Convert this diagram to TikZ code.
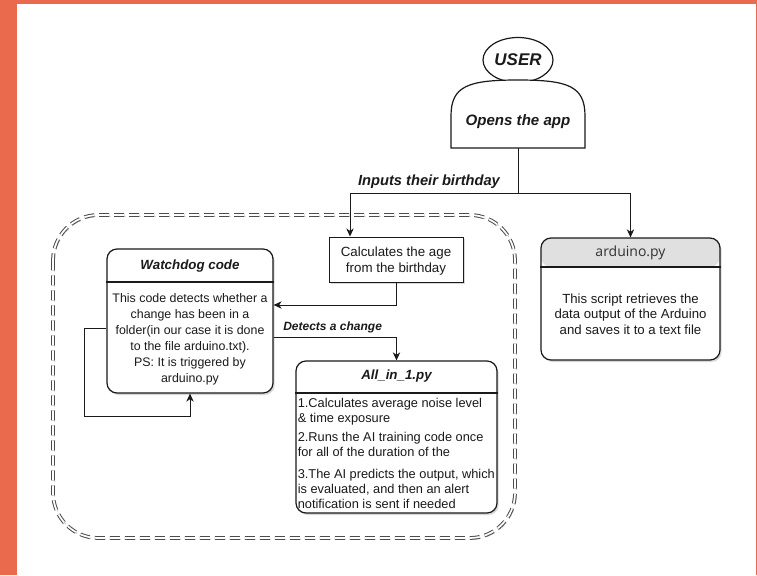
\documentclass[tikz,border=0pt]{standalone}
\usepackage{fontspec}
\setmainfont{Liberation Sans}
\newfontfamily\hdrfont{Open Sans}
\usetikzlibrary{arrows.meta,shapes.geometric,shadows}
\definecolor{frame}{HTML}{E96A4C}
\definecolor{hdr}{HTML}{E0E0E0}
\definecolor{ink}{HTML}{1A1A1A}
\begin{document}
\begin{tikzpicture}[x=0.75pt,y=-0.75pt,
  line/.style={draw=ink, line width=0.75pt},
  arr/.style={line, -{Stealth[length=6pt,width=5.5pt,inset=1.8pt]}},
  shadowed/.style={drop shadow={shadow xshift=1.2pt, shadow yshift=-1.5pt, opacity=0.3}},
  card/.style={draw=ink, line width=0.9pt, fill=white, rounded corners=7.5pt, shadowed, inner sep=0pt},
  plainbox/.style={draw=ink, line width=0.75pt, fill=white, shadowed, inner sep=0pt},
  ttl/.style={font=\fontsize{10}{12}\selectfont\bfseries\itshape, text=ink, inner sep=0pt},
  body/.style={font=\fontsize{9.6}{12}\selectfont, text=ink, align=center, inner sep=0pt},
  lbl/.style={font=\fontsize{9}{11}\selectfont\bfseries\itshape, text=ink, inner sep=0pt}
]
\useasboundingbox (0,0) rectangle (757,575);
\fill[frame] (0,0) rectangle (757,575);
\fill[white] (17,4) rectangle (756,575);

% dashed container
\draw[draw=black!20, line width=0.8pt, dash pattern=on 7.5pt off 3.75pt, rounded corners=34pt,
      xshift=1pt, yshift=-1pt] (53,215) rectangle (515,538);
\draw[draw=black!70, double=white, double distance=1.3pt, line width=0.75pt,
      dash pattern=on 7.5pt off 3.75pt, rounded corners=34pt] (53,215) rectangle (515,538);

% user
\node[draw=ink, line width=0.9pt, ellipse, fill=white, minimum width=52.5pt, minimum height=33.75pt, inner sep=0pt,
      font=\fontsize{12.7}{14}\selectfont\bfseries\itshape, text=ink] (user) at (518,60) {USER};
\node[minimum width=100.5pt, minimum height=51pt, inner sep=0pt] (opens) at (518,114) {};
\draw[draw=ink, line width=0.9pt, fill=white] (451,148) -- (451,116)
   .. controls (451,86) and (468,80) .. (518,80)
   .. controls (568,80) and (585,86) .. (585,116) -- (585,148) -- cycle;
\node[font=\fontsize{11.3}{13}\selectfont\bfseries\itshape, text=ink, inner sep=0pt] (openst) at (518,122) {Opens the app};

% calc box
\node[plainbox, minimum width=100.5pt, minimum height=33.75pt] (calc) at (396,259.5) {};
\node[body, font=\fontsize{10}{12}\selectfont] (calct) at (396,261) {Calculates the age\\from the birthday};

% arduino box
\node[card, minimum width=134.25pt, minimum height=91.5pt,
      path picture={\fill[hdr] (path picture bounding box.north west) rectangle ([yshift=-21.75pt]path picture bounding box.north east);}] (ard) at (630.5,299) {};
\draw[draw=ink, line width=0.9pt] (ard.west |- 0,267) -- (ard.east |- 0,267);
\node[font=\fontsize{10.5}{12}\selectfont\hdrfont, text=ink!90, inner sep=0pt] (ardt) at (630.5,253) {arduino.py};
\node[body, font=\fontsize{9.9}{11.6}\selectfont] (ardb) at (630.5,314) {This script retrieves the\\data output of the Arduino\\and saves it to a text file};

% watchdog box
\node[card, minimum width=124.5pt, minimum height=108pt] (wd) at (190,321) {};
\draw[draw=ink, line width=0.9pt] (wd.west |- 0,282) -- (wd.east |- 0,282);
\node[ttl] (wdt) at (190,266) {Watchdog code};
\node[body, font=\fontsize{9.3}{12}\selectfont] (wdb) at (190,339) {This code detects whether a\\change has been in a\\folder(in our case it is done\\to the file arduino.txt).\\PS: It is triggered by\\arduino.py};

% all_in_1 box
\node[card, minimum width=150.75pt, minimum height=114pt] (all) at (396.5,437) {};
\draw[draw=ink, line width=0.9pt] (all.west |- 0,393) -- (all.east |- 0,393);
\node[ttl] (allt) at (396.5,376) {All\_in\_1.py};
\node[body, align=left, anchor=west, font=\fontsize{9.6}{11.2}\selectfont] (i1) at (297.5,411.5) {1.Calculates average noise level\\\& time exposure};
\node[body, align=left, anchor=west, font=\fontsize{9.6}{11.2}\selectfont] (i2) at (297.5,444) {2.Runs the AI training code once\\for all of the duration of the};
\node[body, align=left, anchor=west, font=\fontsize{9.6}{11.2}\selectfont] (i3) at (297.5,488.5) {3.The AI predicts the output, which\\is evaluated, and then an alert\\notification is sent if needed};

% connectors
\coordinate (br) at (518,193);
\coordinate (cl) at (350,193);
\draw[line] (opens.south) -- (br);
\draw[arr] (br) -- (cl) -- (cl |- calc.north);
\draw[arr] (br) -| (ard.north);
\node[lbl, font=\fontsize{11}{13}\selectfont\bfseries\itshape] (inl) at (429,182) {Inputs their birthday};

\coordinate (c1) at (396,305);
\draw[arr] (calc.south) -- (c1) -- (c1 -| wd.east);

\coordinate (c2) at (273,337);
\draw[arr] (wd.east |- c2) -| (all.north);
\node[lbl, anchor=west] (detl) at (283,327) {Detects a change};

\coordinate (l1) at (84,328);
\coordinate (l2) at (84,416);
\draw[arr] (wd.west |- l1) -- (l1) -- (l2) -- (l2 -| wd.south) -- (wd.south);
\end{tikzpicture}
\end{document}
